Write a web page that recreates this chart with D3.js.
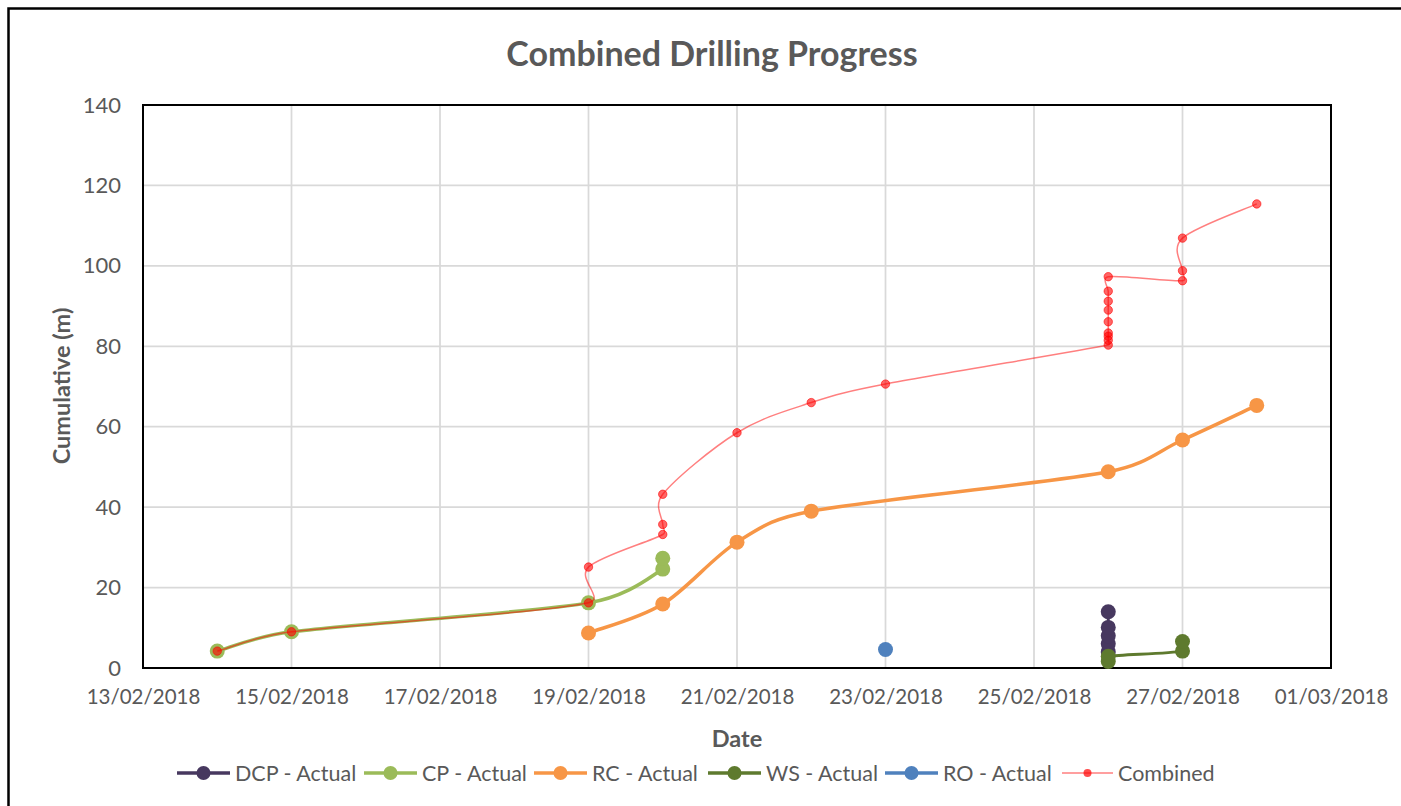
<!DOCTYPE html>
<html>
<head>
<meta charset="utf-8">
<script src="https://cdn.jsdelivr.net/npm/d3@7"></script>
<style>
  body { margin: 0; background: #fff; }
  text { font-family: Lato, "Open Sans", sans-serif; fill: #595959; }
</style>
</head>
<body>
<div id="chart-container"></div>
<script>
// chart values
var xTickLabels = ["13/02/2018","15/02/2018","17/02/2018","19/02/2018","21/02/2018","23/02/2018","25/02/2018","27/02/2018","01/03/2018"];
var yTickValues = [0, 20, 40, 60, 80, 100, 120, 140];

var dcpDates = ["26/02","26/02","26/02","26/02","26/02"];
var dcpValues = [4.0, 6.0, 8.0, 10.1, 14.0];

var cpDates = ["14/02","15/02","19/02","20/02","20/02"];
var cpValues = [4.2, 9.0, 16.2, 24.6, 27.3];

var rcDates = ["19/02","20/02","21/02","22/02","26/02","27/02","28/02"];
var rcValues = [8.7, 15.9, 31.3, 39.0, 48.8, 56.7, 65.3];

var wsDates = ["26/02","26/02","27/02","27/02"];
var wsValues = [1.6, 2.9, 4.2, 6.6];

var roDates = ["23/02"];
var roValues = [4.6];

var combDates = ["14/02","15/02","19/02","19/02","20/02","20/02","20/02","21/02","22/02","23/02",
  "26/02","26/02","26/02","26/02","26/02","26/02","26/02","26/02","26/02",
  "27/02","27/02","27/02","28/02"];
var combValues = [4.2, 9.0, 16.2, 25.1, 33.2, 35.7, 43.2, 58.5, 66.0, 70.6,
  80.3, 81.5, 82.5, 83.3, 86.1, 89.0, 91.2, 93.7, 97.3,
  96.3, 98.8, 106.9, 115.4];

var seriesNames = ["DCP - Actual","CP - Actual","RC - Actual","WS - Actual","RO - Actual","Combined"];

var width = 1401, height = 806;
var plot = {left: 143, top: 105, right: 1331, bottom: 668};

var parseDay = function(s) { var p = s.split("/"); return new Date(2018, +p[1] - 1, +p[0]); };
var parseFull = d3.timeParse("%d/%m/%Y");

// smoothing like the spreadsheet one: catmull-rom tangents, shortened on short segments
function ExcelCurve(context) { this._context = context; }
ExcelCurve.prototype = {
  areaStart: function() {},
  areaEnd: function() {},
  lineStart: function() { this._pts = []; },
  point: function(x, y) { this._pts.push([+x, +y]); },
  lineEnd: function() {
    var pts = this._pts, n = pts.length, ctx = this._context;
    if (!n) return;
    ctx.moveTo(pts[0][0], pts[0][1]);
    for (var i = 0; i < n - 1; i++) {
      var p0 = pts[i - 1] || pts[i], p1 = pts[i], p2 = pts[i + 1], p3 = pts[i + 2] || pts[i + 1];
      var seg = Math.hypot(p2[0] - p1[0], p2[1] - p1[1]);
      var t1 = [(p2[0] - p0[0]) / 6, (p2[1] - p0[1]) / 6];
      var t2 = [(p3[0] - p1[0]) / 6, (p3[1] - p1[1]) / 6];
      [t1, t2].forEach(t => {
        var l = Math.hypot(t[0], t[1]);
        if (l > seg * 0.5 && l > 0) { t[0] *= seg * 0.5 / l; t[1] *= seg * 0.5 / l; }
      });
      ctx.bezierCurveTo(p1[0] + t1[0], p1[1] + t1[1], p2[0] - t2[0], p2[1] - t2[1], p2[0], p2[1]);
    }
  }
};
var curveExcel = function(context) { return new ExcelCurve(context); };

var svg = d3.select("#chart-container")
  .append("svg")
    .attr("width", width)
    .attr("height", height)
    .style("background", "#fff");

// outer frame (runs past the right/bottom edge like the screenshot)
svg.append("rect")
  .attr("x", 8.5).attr("y", 8.5)
  .attr("width", 1420).attr("height", 820)
  .attr("fill", "none").attr("stroke", "#000").attr("stroke-width", 2.5);

var xScale = d3.scaleTime()
  .domain([parseFull("13/02/2018"), parseFull("01/03/2018")])
  .range([plot.left, plot.right]);
var yScale = d3.scaleLinear()
  .domain([0, 140])
  .range([plot.bottom, plot.top]);

// gridlines
svg.append("g")
  .selectAll("line")
  .data(yTickValues.slice(1, -1))
  .enter()
  .append("line")
    .attr("x1", plot.left).attr("x2", plot.right)
    .attr("y1", d => yScale(d)).attr("y2", d => yScale(d))
    .attr("stroke", "#d9d9d9").attr("stroke-width", 1.75);

svg.append("g")
  .selectAll("line")
  .data(xTickLabels.slice(1, -1))
  .enter()
  .append("line")
    .attr("x1", d => xScale(parseFull(d))).attr("x2", d => xScale(parseFull(d)))
    .attr("y1", plot.top).attr("y2", plot.bottom)
    .attr("stroke", "#d9d9d9").attr("stroke-width", 1.75);

// plot border
svg.append("rect")
  .attr("x", plot.left).attr("y", plot.top)
  .attr("width", plot.right - plot.left).attr("height", plot.bottom - plot.top)
  .attr("fill", "none").attr("stroke", "#000").attr("stroke-width", 2);

// axes
var yAxis = svg.append("g")
  .attr("transform", "translate(" + plot.left + ",0)")
  .call(d3.axisLeft(yScale).tickValues(yTickValues).tickSize(0).tickPadding(22));
yAxis.select(".domain").remove();
yAxis.selectAll("text").attr("font-size", 22).style("fill", "#595959").attr("font-family", "Lato, sans-serif");

var xAxis = svg.append("g")
  .attr("transform", "translate(0," + plot.bottom + ")")
  .call(d3.axisBottom(xScale).tickValues(xTickLabels.map(parseFull)).tickFormat(d3.timeFormat("%d/%m/%Y")).tickSize(0).tickPadding(21));
xAxis.select(".domain").remove();
xAxis.selectAll("text").attr("font-size", 20.5).style("fill", "#595959").attr("font-family", "Lato, sans-serif");

// titles
svg.append("text")
  .attr("x", 712).attr("y", 66)
  .attr("text-anchor", "middle")
  .attr("font-size", 34).attr("font-weight", "bold")
  .text("Combined Drilling Progress");

svg.append("text")
  .attr("transform", "translate(70,386) rotate(-90)")
  .attr("text-anchor", "middle")
  .attr("font-size", 23.5).attr("font-weight", "bold")
  .text("Cumulative (m)");

svg.append("text")
  .attr("x", 737).attr("y", 747)
  .attr("text-anchor", "middle")
  .attr("font-size", 23.5).attr("font-weight", "bold")
  .text("Date");

// series
var line = d3.line()
  .x(d => xScale(d[0]))
  .y(d => yScale(d[1]))
  .curve(curveExcel);

function zipSeries(dates, values) {
  return dates.map((d, i) => [parseDay(d), values[i]]);
}

var series = [
  {name: seriesNames[0], data: zipSeries(dcpDates, dcpValues), color: "#47385f", w: 3, r: 7.5},
  {name: seriesNames[1], data: zipSeries(cpDates, cpValues), color: "#9bbb59", w: 3.5, r: 7.5},
  {name: seriesNames[2], data: zipSeries(rcDates, rcValues), color: "#f79646", w: 3.5, r: 7.5},
  {name: seriesNames[3], data: zipSeries(wsDates, wsValues), color: "#5e7a2e", w: 3, r: 7.5},
  {name: seriesNames[4], data: zipSeries(roDates, roValues), color: "#4f81bd", w: 3, r: 7.5}
];

series.forEach(s => {
  var g = svg.append("g");
  g.append("path")
    .datum(s.data)
    .attr("d", line)
    .attr("fill", "none")
    .attr("stroke", s.color)
    .attr("stroke-width", s.w);
  g.selectAll("circle")
    .data(s.data)
    .enter()
    .append("circle")
      .attr("cx", d => xScale(d[0]))
      .attr("cy", d => yScale(d[1]))
      .attr("r", s.r)
      .attr("fill", s.color);
});

// combined (thin, semi transparent red)
var comb = zipSeries(combDates, combValues);
var cg = svg.append("g");
cg.append("path")
  .datum(comb)
  .attr("d", line)
  .attr("fill", "none")
  .attr("stroke", "#ff0000")
  .attr("stroke-opacity", 0.5)
  .attr("stroke-width", 1.5);
cg.selectAll("circle")
  .data(comb)
  .enter()
  .append("circle")
    .attr("cx", d => xScale(d[0]))
    .attr("cy", d => yScale(d[1]))
    .attr("r", 4.2)
    .attr("fill", "#ff0000").attr("fill-opacity", 0.6)
    .attr("stroke", "#ff0000").attr("stroke-opacity", 0.6).attr("stroke-width", 1);

// legend
var legendY = 773;
var legendStart = [177, 364, 534, 708, 885, 1062];
var legendColors = ["#47385f","#9bbb59","#f79646","#5e7a2e","#4f81bd","#ff0000"];

seriesNames.forEach((name, i) => {
  var x0 = legendStart[i];
  var isComb = i == 5;
  var len = isComb ? 51 : 53;
  var g = svg.append("g");
  g.append("line")
    .attr("x1", x0).attr("x2", x0 + len)
    .attr("y1", legendY).attr("y2", legendY)
    .attr("stroke", legendColors[i])
    .attr("stroke-opacity", isComb ? 0.5 : 1)
    .attr("stroke-width", isComb ? 1.5 : 3.5);
  g.append("circle")
    .attr("cx", x0 + len / 2).attr("cy", legendY)
    .attr("r", isComb ? 4 : 7)
    .attr("fill", legendColors[i])
    .attr("fill-opacity", isComb ? 0.7 : 1);
  g.append("text")
    .attr("x", x0 + len + 5).attr("y", legendY + 7.5)
    .attr("font-size", 21.5)
    .text(name);
});
</script>
</body>
</html>
